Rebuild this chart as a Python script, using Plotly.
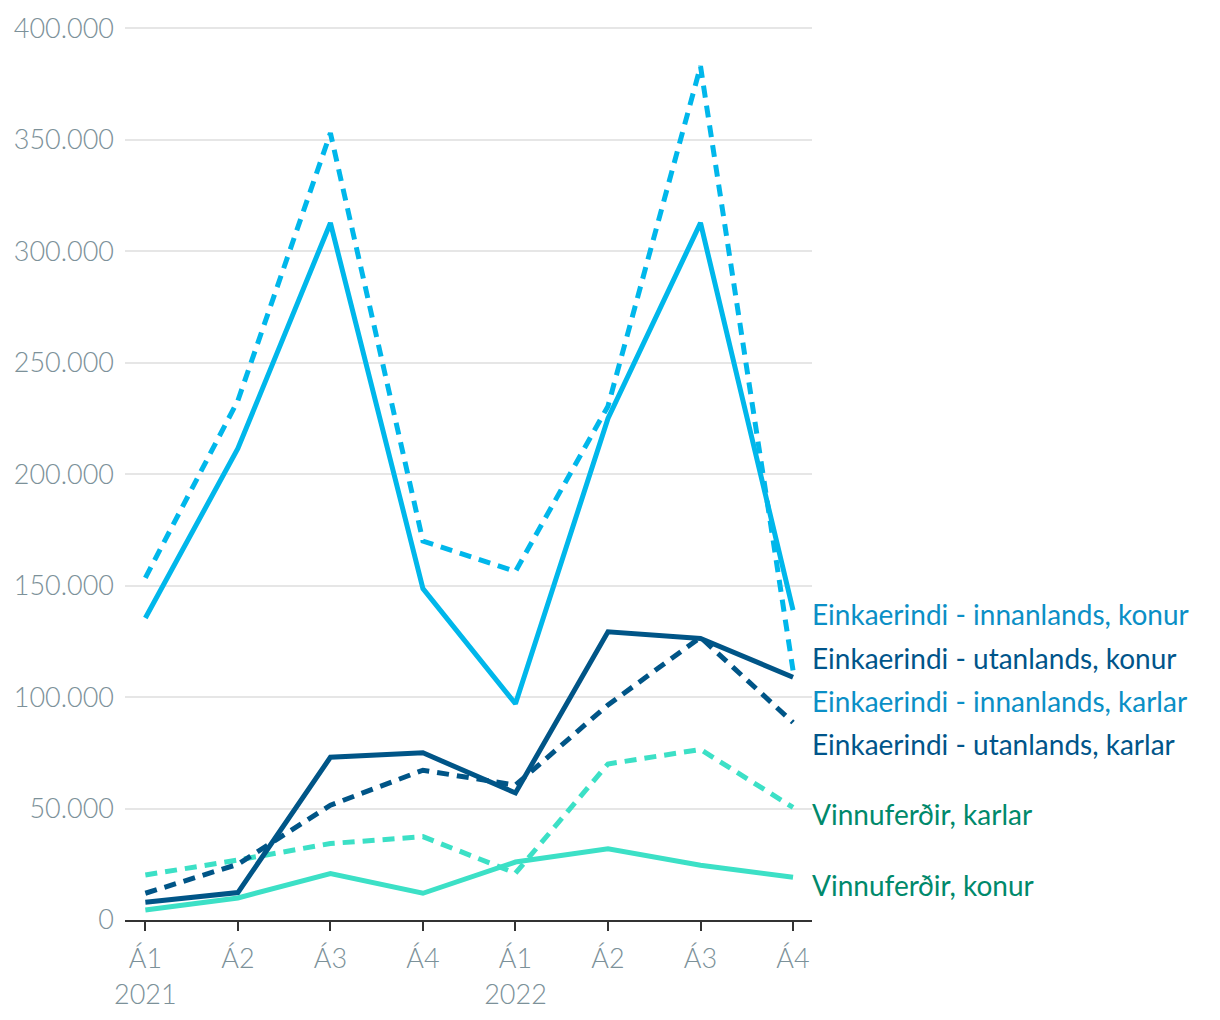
import plotly.graph_objects as go

quarters = ["Á1", "Á2", "Á3", "Á4", "Á1", "Á2", "Á3", "Á4"]
years = ["2021", "", "", "", "2022", "", "", ""]

innan_konur = [135500, 211500, 312700, 148700, 97000, 225000, 312700, 139000]
innan_karlar = [153500, 233000, 353000, 170000, 156400, 230500, 383000, 112000]
utan_konur = [8000, 12300, 73000, 75000, 57000, 129300, 126300, 108900]
utan_karlar = [12000, 25000, 51500, 67200, 60500, 96500, 126800, 88600]
vinnu_karlar = [20200, 26900, 34300, 37400, 21000, 70000, 76500, 50500]
vinnu_konur = [4500, 9900, 20800, 12000, 26000, 32000, 24600, 19200]

names = [
    "Einkaerindi - innanlands, konur",
    "Einkaerindi - utanlands, konur",
    "Einkaerindi - innanlands, karlar",
    "Einkaerindi - utanlands, karlar",
    "Vinnuferðir, karlar",
    "Vinnuferðir, konur",
]

LIGHT = "#00b7eb"
DARK = "#005587"
TEAL = "#3ce0c6"
LIGHT_TXT = "#0b8fc6"
DARK_TXT = "#00558a"
TEAL_TXT = "#00896b"

x = list(range(len(quarters)))
ticktext = [q + ("<br>" + y if y else "") for q, y in zip(quarters, years)]

DASH = "12px,8px"
series = [
    (vinnu_konur, "Vinnuferðir, konur", TEAL, "solid"),
    (vinnu_karlar, "Vinnuferðir, karlar", TEAL, DASH),
    (utan_karlar, "Einkaerindi - utanlands, karlar", DARK, DASH),
    (utan_konur, "Einkaerindi - utanlands, konur", DARK, "solid"),
    (innan_karlar, "Einkaerindi - innanlands, karlar", LIGHT, DASH),
    (innan_konur, "Einkaerindi - innanlands, konur", LIGHT, "solid"),
]

fig = go.Figure()
for vals, name, color, dash in series:
    fig.add_trace(go.Scatter(
        x=x, y=vals, name=name, mode="lines",
        line=dict(color=color, width=5, dash=dash),
        showlegend=False, cliponaxis=False,
    ))

# label layout positions (separated to avoid overlap)
label_y = [136500, 116500, 97500, 78000, 46500, 15000]
label_colors = [LIGHT_TXT, DARK_TXT, LIGHT_TXT, DARK_TXT, TEAL_TXT, TEAL_TXT]
for name, ly, c in zip(names, label_y, label_colors):
    fig.add_annotation(
        x=1, xref="paper", y=ly, yref="y", text=name, showarrow=False,
        xanchor="left", yanchor="middle", xshift=-2, yshift=2,
        font=dict(family="Lato", size=28, color=c),
    )

fig.update_layout(
    width=1212, height=1012,
    margin=dict(l=117, r=408, t=19, b=100, autoexpand=False),
    plot_bgcolor="white", paper_bgcolor="white",
    separators=",.",
    font=dict(family="Lato", color="#7c9199"),
)
fig.update_xaxes(
    range=[-0.22, 7.205], tickvals=x, ticktext=ticktext,
    showgrid=False, zeroline=False, automargin=False,
    showline=True, linecolor="#333333", linewidth=2,
    ticks="outside", ticklen=9, tickwidth=2, tickcolor="#333333",
    ticklabelstandoff=5,
    tickfont=dict(family="Lato", size=27, color="#7c9199", weight=300),
)
fig.update_yaxes(
    range=[0, 400600], tickvals=list(range(0, 400001, 50000)), tickformat=",d",
    showgrid=True, gridcolor="#e6e6e6", gridwidth=1.5, zeroline=False,
    showline=False, ticks="", ticklabelstandoff=10, automargin=False,
    tickfont=dict(family="Lato", size=27, color="#7c9199", weight=300),
)

fig.write_html("out.html")
